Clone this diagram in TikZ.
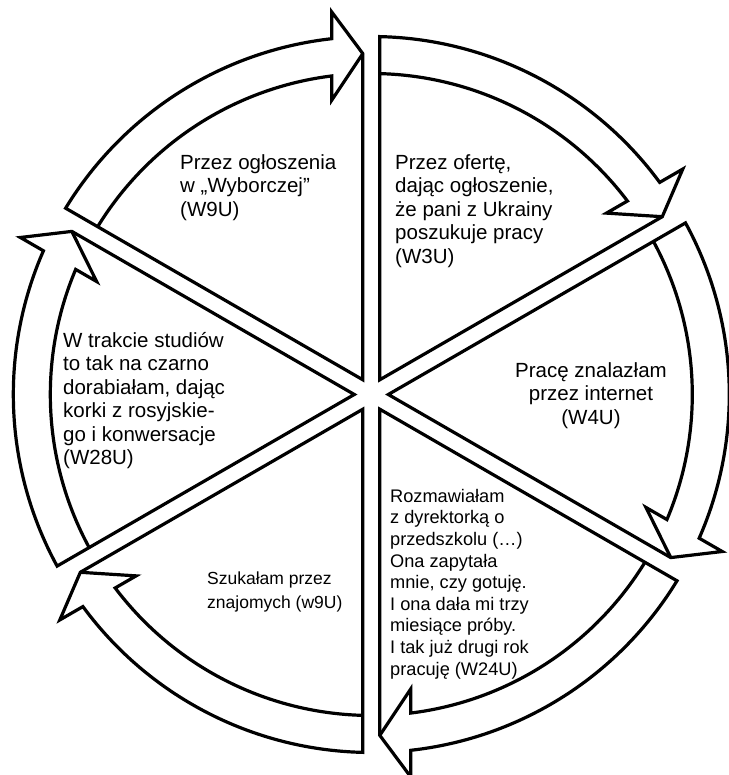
\documentclass[tikz,border=0pt]{standalone}
\usepackage{fontspec}
\setmainfont{Liberation Sans}
\begin{document}
\begin{tikzpicture}[x=1pt,y=1pt,
  seg/.style={draw=black, fill=white, line width=3.2pt, line join=miter},
  segline/.style={draw=black, line width=3.2pt, line join=miter},
  bigtxt/.style={font=\fontsize{20.5}{23.5}\selectfont, inner sep=0pt, align=left, anchor=north west},
  smalltxt/.style={font=\fontsize{18.2}{21.6}\selectfont, inner sep=0pt, align=left, anchor=north west},
  tinytxt/.style={font=\fontsize{17.5}{23.5}\selectfont, inner sep=0pt, align=left, anchor=north west}]
\useasboundingbox (0,0) rectangle (728,775);
\coordinate (C) at (371.3,380.5);
% six pie segments, each with a clockwise curved arrow on its rim
% (half gap 8.5, rim 321..358, head 297..384.5, tip at 341, head base offset 39.5)
\foreach \ae [count=\i] in {30,-30,-90,-150,150,90} {
  \begin{scope}[shift={(C)}, rotate=\ae]
    \path[seg] (30:17) coordinate (v\i)
      -- ({60-asin(8.5/358)}:358) coordinate (s\i)
      arc[start angle={60-asin(8.5/358)}, end angle={asin(39.5/358)}, radius=358pt]
      -- ({asin(39.5/384.5)}:384.5) coordinate (ho\i)
      -- ({asin(8.5/341)}:341) coordinate (t\i)
      -- cycle;
    \path[segline] (t\i) -- ({asin(39.5/297)}:297) coordinate (hi\i)
      -- ({asin(39.5/321)}:321)
      arc[start angle={asin(39.5/321)}, end angle={60-asin(8.5/321)}, radius=321pt];
  \end{scope}
}
\node[bigtxt] (txtA) at (180,621) {Przez ogłoszenia\\w „Wyborczej”\\(W9U)};
\node[bigtxt] (txtB) at (395,621) {Przez ofertę,\\dając ogłoszenie,\\że pani z Ukrainy\\poszukuje pracy\\(W3U)};
\node[bigtxt, align=center, anchor=north] (txtC) at (591,413) {Pracę znalazłam\\przez internet\\(W4U)};
\node[smalltxt] (txtD) at (390,286) {Rozmawiałam\\z dyrektorką o\\przedszkolu (…)\\Ona zapytała\\mnie, czy gotuję.\\I ona dała mi trzy\\miesiące próby.\\I tak już drugi rok\\pracuję (W24U)};
\node[tinytxt] (txtE) at (207,203) {Szukałam przez\\znajomych (w9U)};
\node[bigtxt] (txtF) at (63,443) {W trakcie studiów\\to tak na czarno\\dorabiałam, dając\\korki z rosyjskie-\\go i konwersacje\\(W28U)};
\end{tikzpicture}
\end{document}
